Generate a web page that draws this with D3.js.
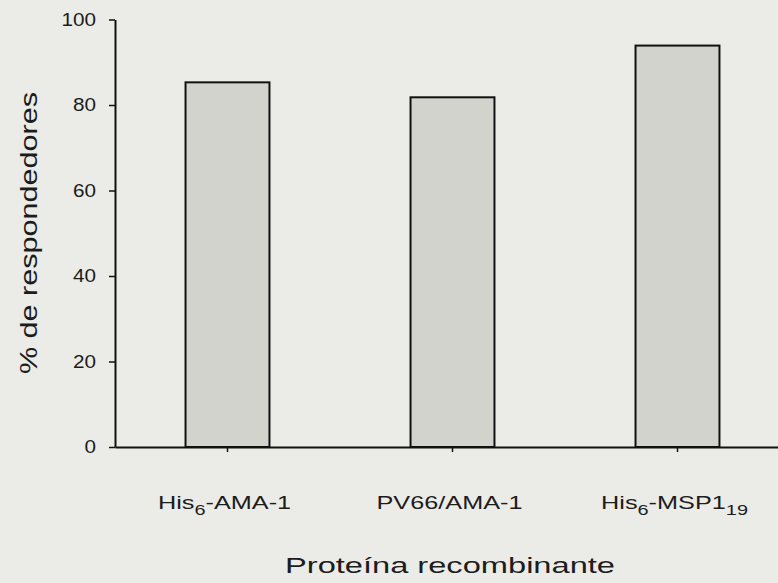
<!DOCTYPE html>
<html>
<head>
<meta charset="utf-8">
<script src="https://cdn.jsdelivr.net/npm/d3@7"></script>
<style>
  html, body { margin: 0; padding: 0; background: #ebebe7; }
  svg { display: block; }
  text { font-family: "Liberation Sans", Arial, Helvetica, sans-serif; fill: #1c1c1c; }
</style>
</head>
<body>
<svg id="chart" width="778" height="583"></svg>
<script>
// Percentage of responders per recombinant protein
const categories = ["His6-AMA-1", "PV66/AMA-1", "His6-MSP1_19"];
const values = [85.3, 81.8, 93.9];
const yTicks = [0, 20, 40, 60, 80, 100];

// the lettering is a wide grotesque; Liberation Sans is widened to suit
const WIDE = 1.33;

const svg = d3.select("#chart");
svg.append("rect").attr("width", 778).attr("height", 583).attr("fill", "#ebebe7");

const x = d3.scaleBand()
  .domain(categories)
  .range([115, 790])
  .paddingInner(0.627)
  .paddingOuter(0.3135);

const y = d3.scaleLinear().domain([0, 100]).range([447, 19.5]);

// bars
svg.append("g").selectAll("rect")
  .data(categories)
  .join("rect")
  .attr("x", d => x(d))
  .attr("y", (d, i) => y(values[i]))
  .attr("width", x.bandwidth())
  .attr("height", (d, i) => y(0) - y(values[i]))
  .attr("fill", "#d3d3ce")
  .attr("stroke", "#111")
  .attr("stroke-width", 2);

// y axis
const yAxis = svg.append("g")
  .attr("transform", "translate(115,0)")
  .call(d3.axisLeft(y).tickValues(yTicks).tickSize(6).tickSizeOuter(0));
yAxis.select(".domain").attr("stroke", "#111").attr("stroke-width", 2);
yAxis.selectAll(".tick line").attr("stroke", "#111").attr("stroke-width", 1.5);
yAxis.selectAll(".tick text")
  .attr("x", 0)
  .attr("transform", "translate(-19,0) scale(1.15,1)")
  .style("font-size", "18px")
  .attr("fill", "#1c1c1c");

// x axis
const xAxis = svg.append("g")
  .attr("transform", "translate(0,447)")
  .call(d3.axisBottom(x).tickSize(5).tickSizeOuter(0).tickFormat(""));
xAxis.select(".domain").attr("stroke", "#111").attr("stroke-width", 2);
xAxis.selectAll(".tick line").attr("stroke", "#111").attr("stroke-width", 1.5);

// category labels with subscripts
xAxis.selectAll(".tick").each(function(d) {
  const t = d3.select(this).append("text")
    .attr("transform", `translate(-3,62) scale(${WIDE},1)`)
    .attr("text-anchor", "middle")
    .style("font-size", "19px");
  const parts = d.split(/(6|_19)/).filter(s => s !== "");
  let sub = false;
  parts.forEach(p => {
    if ((p === "6" && d.startsWith("His")) || p === "_19") {
      t.append("tspan").attr("dy", 6).style("font-size", "15px").text(p.replace("_", ""));
      sub = true;
    } else {
      t.append("tspan").attr("dy", sub ? -6 : 0).text(p);
      sub = false;
    }
  });
});

// axis titles
svg.append("text")
  .attr("transform", `translate(37,233) rotate(-90) scale(${WIDE},1)`)
  .attr("text-anchor", "middle")
  .style("font-size", "23px")
  .text("% de respondedores");

svg.append("text")
  .attr("transform", "translate(450,573) scale(1.45,1)")
  .attr("text-anchor", "middle")
  .style("font-size", "22.5px")
  .text("Proteína recombinante");
</script>
</body>
</html>
